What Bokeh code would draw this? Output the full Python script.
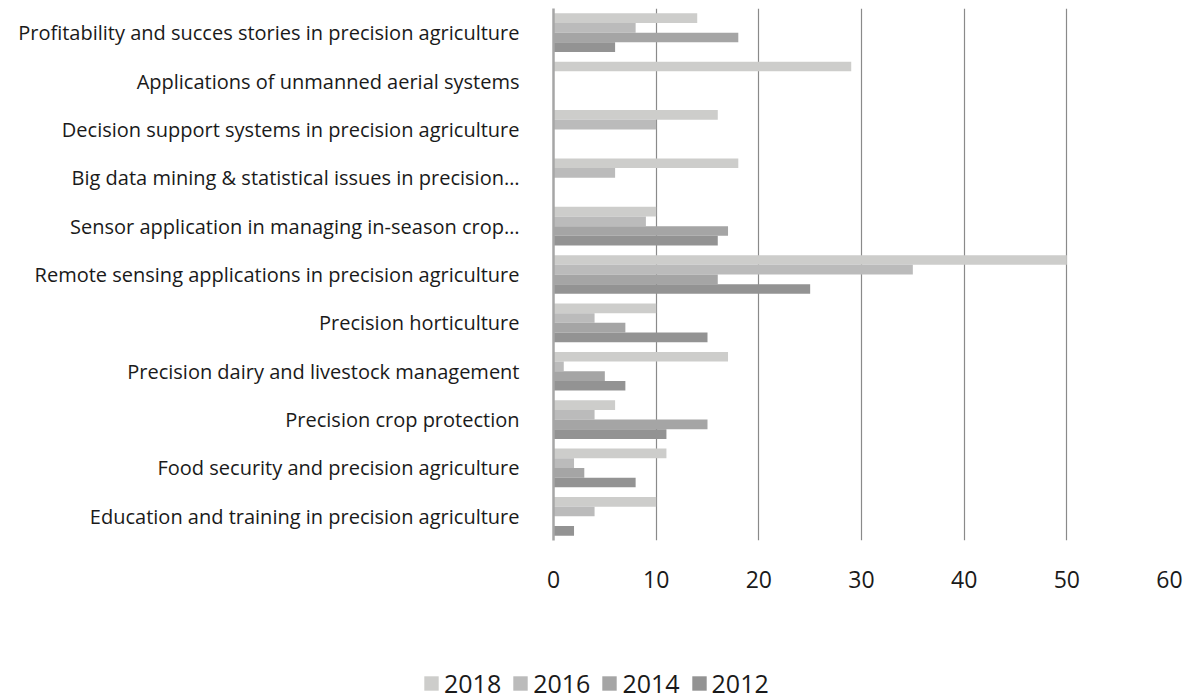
from bokeh.plotting import figure
from bokeh.models import FactorRange, Legend, LegendItem, Range1d, FixedTicker
from bokeh.layouts import column, row
from bokeh.transform import dodge
from bokeh.embed import file_html
from bokeh.resources import INLINE

categories = [
    "Profitability and succes stories in precision agriculture",
    "Applications of unmanned aerial systems",
    "Decision support systems in precision agriculture",
    "Big data mining & statistical issues in precision…",
    "Sensor application in managing in-season crop…",
    "Remote sensing applications in precision agriculture",
    "Precision horticulture",
    "Precision dairy and livestock management",
    "Precision crop protection",
    "Food security and precision agriculture",
    "Education and training in precision agriculture",
]
years = ["2018", "2016", "2014", "2012"]
v2018 = [14, 29, 16, 18, 10, 50, 10, 17, 6, 11, 10]
v2016 = [8, 0, 10, 6, 9, 35, 4, 1, 4, 2, 4]
v2014 = [18, 0, 0, 0, 17, 16, 7, 5, 15, 3, 0]
v2012 = [6, 0, 0, 0, 16, 25, 15, 7, 11, 8, 2]
x_ticks = [0, 10, 20, 30, 40, 50, 60]

colors = ["#cdcdcb", "#bbbbbb", "#a5a5a5", "#939393"]
offsets = [0.3, 0.1, -0.1, -0.3]
series = [v2018, v2016, v2014, v2012]

FONT = "Open Sans"
TXT = "#1a1a1a"

p = figure(width=1194, height=605, output_backend="svg", toolbar_location=None,
           y_range=FactorRange(*list(reversed(categories)), range_padding=0),
           x_range=Range1d(0, 60),
           min_border_left=553, min_border_top=8, min_border_right=25, min_border_bottom=65)
p.outline_line_color = None

data = dict(cat=categories, v2018=v2018, v2016=v2016, v2014=v2014, v2012=v2012)
for yr, vals, col, off in zip(years, series, colors, offsets):
    p.hbar(y=dodge("cat", off, range=p.y_range), right="v" + yr, left=0, height=0.2,
           source=data, fill_color=col, line_color=None)

p.ygrid.grid_line_color = None
p.xgrid.grid_line_color = "#8a8a8a"
p.xgrid.grid_line_width = 1.2
p.xaxis.ticker = FixedTicker(ticks=x_ticks)
p.xaxis.axis_line_color = None
p.xaxis.major_tick_line_color = None
p.xaxis.minor_tick_line_color = None
p.xaxis.major_label_standoff = 24
p.xaxis.major_label_text_font = FONT
p.xaxis.major_label_text_font_size = "23px"
p.xaxis.major_label_text_color = TXT

p.yaxis.axis_line_color = "#a6a6a6"
p.yaxis.axis_line_width = 2.5
p.yaxis.major_tick_line_color = None
p.yaxis.minor_tick_line_color = None
p.yaxis.major_label_standoff = 28
p.yaxis.major_label_text_font = FONT
p.yaxis.major_label_text_font_size = "20px"
p.yaxis.major_label_text_color = TXT

# legend figure (dummy bars lie outside its ranges; only the legend shows)
lg = figure(width=1194, height=95, output_backend="svg", toolbar_location=None,
            x_range=Range1d(0, 1), y_range=Range1d(0, 1),
            x_axis_location=None, y_axis_location=None,
            min_border_left=0, min_border_right=0, min_border_top=0, min_border_bottom=0)
lg.grid.visible = False
lg.outline_line_color = None
items = []
for yr, col in zip(years, colors):
    r = lg.hbar(y=[-5], right=[-4], left=[-5], height=0.2, fill_color=col, line_color=None)
    items.append(LegendItem(label=yr, renderers=[r]))
legend = Legend(items=items, orientation="horizontal", location=(422, 0),
                label_text_font=FONT, label_text_font_size="25px", label_text_color=TXT,
                glyph_width=18, glyph_height=18, spacing=10, label_standoff=4,
                padding=0, margin=0, border_line_color=None, background_fill_alpha=0)
lg.add_layout(legend, "center")

open("out.html", "w").write(file_html(column(p, row(lg, spacing=0), spacing=0), INLINE))
